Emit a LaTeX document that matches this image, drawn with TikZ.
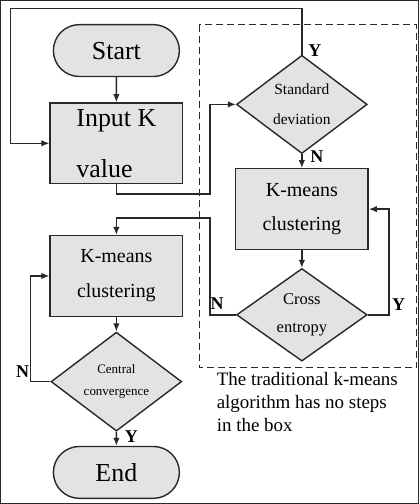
\documentclass[tikz,border=0pt]{standalone}
\usepackage{fontspec}
\setmainfont{Liberation Serif}
\usetikzlibrary{arrows.meta, shapes.geometric, shapes.misc}

\definecolor{boxgray}{RGB}{227,227,227}
\definecolor{linegray}{RGB}{40,40,40}

\begin{document}
\begin{tikzpicture}[x=1pt, y=-1pt,
    every path/.style={draw=linegray, line width=1.4pt},
    term/.style={rounded rectangle, draw, fill=boxgray, minimum width=133pt, minimum height=52pt, font=\fontsize{26}{30}\selectfont},
    procbox/.style={rectangle, draw, fill=boxgray, minimum width=133pt, minimum height=81pt, align=center, font=\fontsize{20}{35}\selectfont},
    decide/.style={diamond, draw, fill=boxgray, minimum width=131pt, minimum height=78pt, inner sep=0pt, align=center},
    yn/.style={font=\fontsize{18}{18}\selectfont\bfseries}]
      \useasboundingbox (0,0) rectangle (419,504);
      % left column
      \node[term] (start) at (116,50) {Start};
      \node[procbox, align=left, font=\fontsize{26}{31}\selectfont] (input) at (116,143) {Input K\\[20pt]value};
      \node[procbox] (kmL) at (116,276) {K-means\\clustering};
      \node[decide, font=\fontsize{13}{22}\selectfont] (central) at (116,382) {Central\\convergence};
      \node[term] (finish) at (116,473) {End};
      % steps in the box
      \node[decide, font=\fontsize{15.5}{30}\selectfont] (stddev) at (302,104) {Standard\\deviation};
      \node[procbox] (kmR) at (302,209) {K-means\\clustering};
      \node[decide, font=\fontsize{16.5}{28}\selectfont] (cross) at (302,315) {Cross\\entropy};
      \draw[dash pattern=on 7pt off 4pt, line width=1.2pt] (199,24) rectangle (417,368);
      \node[align=left, anchor=north west, inner sep=0pt, font=\fontsize{19}{23}\selectfont] (note) at (216,372) {The traditional k-means\\algorithm has no steps\\ in the box};
      % connectors
      \draw[-{Latex[length=8pt, width=6.5pt]}] (start) -- (input);
      \draw[-{Latex[length=8pt, width=6.5pt]}] (stddev.north) |- (10,8) |- (input.west);
      \draw[-{Latex[length=8pt, width=6.5pt]}] (input.south) |- (210,194) |- (stddev.west);
      \draw[-{Latex[length=8pt, width=6.5pt]}] (stddev) -- (kmR);
      \draw[-{Latex[length=8pt, width=6.5pt]}] (kmR) -- (cross);
      \draw[-{Latex[length=8pt, width=6.5pt]}] (cross.east) -- ++(21,0) |- (kmR.east);
      \draw[-{Latex[length=8pt, width=6.5pt]}] (cross.west) -| (210,218) -| (kmL.north);
      \draw[-{Latex[length=8pt, width=6.5pt]}] (kmL) -- (central);
      \draw[-{Latex[length=8pt, width=6.5pt]}] (central.west) -- ++(-20,0) |- (kmL.west);
      \draw[-{Latex[length=8pt, width=6.5pt]}] (central) -- (finish);
      % labels
      \node[yn] at (315,50) {Y};
      \node[yn] at (317,156) {N};
      \node[yn] at (399,305) {Y};
      \node[yn] at (217,304) {N};
      \node[yn] at (22,372) {N};
      \node[yn] at (131,437) {Y};
\end{tikzpicture}
\end{document}
